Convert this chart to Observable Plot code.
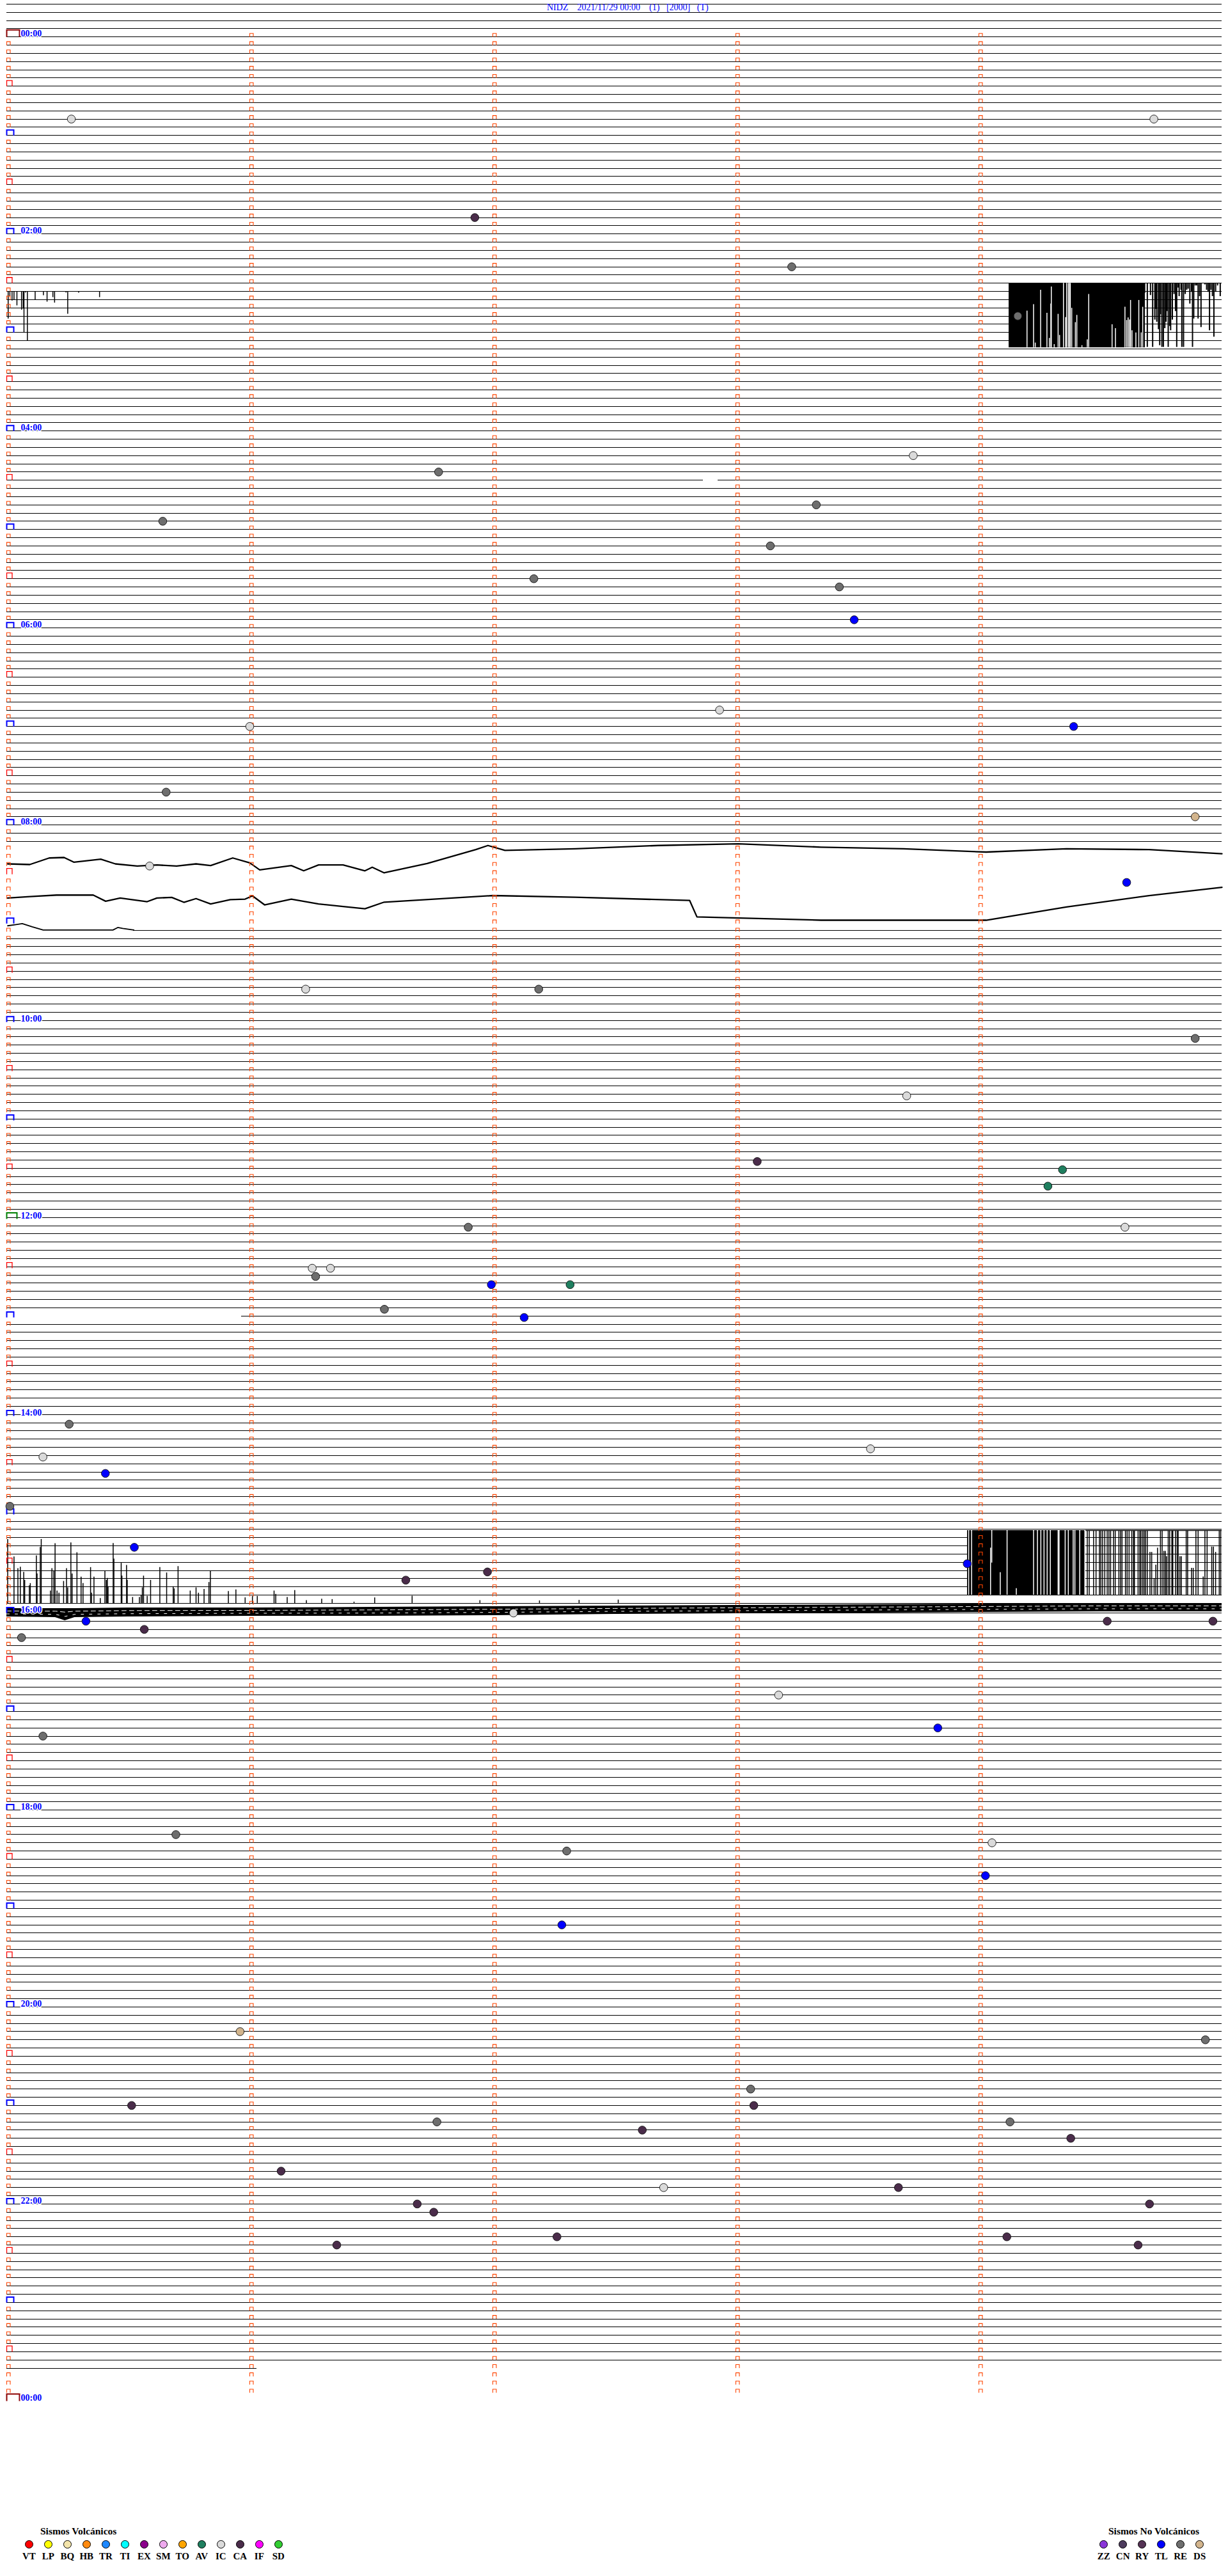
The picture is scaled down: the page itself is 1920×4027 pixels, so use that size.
<!DOCTYPE html>
<html><head><meta charset="utf-8">
<script src="https://cdn.jsdelivr.net/npm/d3@7"></script>
<script src="https://cdn.jsdelivr.net/npm/@observablehq/plot@0.6"></script>
<style>
html,body{margin:0;padding:0;background:#fff;}
body{width:1920px;height:4027px;overflow:hidden;position:relative;}
#chart{position:absolute;left:0;top:0;}
#title{position:absolute;left:855px;top:4px;font:14px "Liberation Serif",serif;color:#0000ff;white-space:pre;line-height:16px;}
#legend{position:absolute;left:0;top:3870px;width:1920px;height:157px;font-family:"Liberation Serif",serif;font-weight:bold;color:#000;}
.lg-title{position:absolute;font-size:15.5px;line-height:18px;white-space:nowrap;}
.lg-dot{position:absolute;width:13px;height:13px;box-sizing:border-box;border:1px solid #000;border-radius:50%;}
.lg-lab{position:absolute;font-size:15px;line-height:18px;transform:translateX(-50%);white-space:nowrap;}
</style></head>
<body>
<div id="chart"></div>
<div id="title"></div>
<div id="legend"></div>
<script>
// ================= DATA =================
const stationTitle = "NIDZ    2021/11/29 00:00    (1)   [2000]   (T)";
const hourLabels = ["00:00","02:00","04:00","06:00","08:00","10:00","12:00","14:00","16:00","18:00","20:00","22:00","00:00"];
const hourLabelRows = [0,24,48,72,96,120,144,168,192,216,240,264,288];   // one row = 5 minutes
const minuteTicks = [0,1,2,3,4];                                           // minutes within a row
const firstRow = -4, lastRow = 284, lastRowEnd = 1.03, lastTickRow = 287;
const missingRows = [99,100,101,102,103,104,105,106,107,108];
const shiftFrom = 109, shiftTo = 191, shiftRows = -0.18;
const gapRow  = [54, 156, 109];
const gapFrom = [2.866, 0, 0];
const gapTo   = [2.926, 0.966, 0.52];

// legend
const volcanicCodes  = ["VT","LP","BQ","HB","TR","TI","EX","SM","TO","AV","IC","CA","IF","SD"];
const volcanicColors = ["#ff0000","#ffff00","#f3e4aa","#ff8a10","#1e88ff","#00ffff","#8b008b","#eeaaee","#ffa500","#1f7f5f","#dadada","#4a2c4a","#ff00ff","#32cd32"];
const nonVolcanicCodes  = ["ZZ","CN","RY","TL","RE","DS"];
const nonVolcanicColors = ["#8a35d8","#4d3b5d","#553355","#0000ff","#6e6e6e","#d2b48c"];

// events (minute within row, row index, type)
const eventMinute = [0.266,4.72,1.926,3.23,4.16,3.73,1.777,3.331,0.642,3.142,2.169,3.426,3.487,2.933,1.0,4.39,0.656,4.89,0.588,4.608,1.23,2.189,4.89,3.703,3.088,4.344,4.284,4.601,1.899,1.257,1.332,1.271,1.994,2.318,1.554,2.129,0.257,0.149,3.554,0.406,0.013,0.525,1.642,1.978,3.952,0.326,0.061,0.566,4.528,4.963,0.149,3.176,3.831,0.696,2.304,4.054,4.027,2.284,0.96,4.932,0.514,3.061,3.074,1.77,2.615,4.128,4.378,1.129,2.703,3.669,1.689,1.757,4.702,2.264,4.115,1.358,4.655,2.085];
const eventRow    = [10,10,22,28,34,51,53,57,59,62,66,67,71,82,84,84,92,95,101,103,116,116,122,129,137,138,140,145,145,150,150,151,152,152,155,156,169,173,172,175,179,184,188,187,186,193,195,194,193,193,207,202,206,219,221,220,224,230,243,244,252,250,252,254,255,254,256,260,262,262,264,265,264,268,268,269,269,192];
const eventType   = ["IC","IC","CA","RE","RE","IC","RE","RE","RE","RE","RE","RE","TL","IC","IC","TL","RE","DS","IC","TL","IC","RE","RE","IC","CA","AV","AV","IC","RE","IC","IC","RE","TL","AV","RE","TL","RE","IC","IC","TL","RE","TL","CA","CA","TL","TL","RE","CA","CA","CA","RE","IC","TL","RE","RE","IC","TL","TL","DS","RE","CA","RE","CA","RE","CA","RE","CA","CA","IC","CA","CA","CA","CA","CA","CA","CA","CA","IC"];

// saturated event 02:30 row (hangs downward), clip depth in rows
const r30Start = 4.124, r30DenseEnd = 4.684, r30Clip = 7.83;
const r30GapMin   = [4.198,4.225,4.232,4.254,4.28,4.29,4.296,4.298,4.31,4.326,4.332,4.348,4.357,4.361,4.368,4.373,4.376,4.382,4.397,4.403,4.424,4.446,4.452,4.548,4.562,4.601,4.608,4.614,4.62,4.624,4.63,4.646,4.658,4.668,4.674];
const r30GapDepth = [3.38,2.6,7.27,0.83,3.64,6.7,2.52,0.44,7.46,3.77,6.34,0,4.16,0,0,0,0,3.04,4.78,3.9,7.59,6.88,1.35,5.04,5.51,2.91,4.52,4.21,4.47,2.08,5.77,6.03,2.08,6.03,2.91];
const r30SpikeMin   = [4.682,4.693,4.706,4.715,4.724,4.728,4.732,4.739,4.744,4.747,4.753,4.759,4.765,4.77,4.774,4.779,4.785,4.789,4.796,4.803,4.809,4.814,4.82,4.824,4.832,4.835,4.842,4.849,4.855,4.861,4.868,4.875,4.879,4.884,4.89,4.896,4.902,4.908,4.914,4.921,4.93,4.937,4.943,4.949,4.955,4.961,4.967,4.974,4.982,4.993];
const r30SpikeDepth = [1.22,7.8,1.48,7.8,4.47,3.17,4.73,5.64,7.59,3.82,7.8,7.8,5.51,4.73,3.43,7.8,5.25,5.77,4.47,1.35,3.43,7.8,0.57,1.61,0.83,7.8,7.8,1.35,0.83,0.7,2.52,1.09,7.8,4.34,0.31,0.31,4.34,1.61,5.38,0.05,0.18,0.83,1.09,5.77,0.83,1.61,6.55,1.09,0.31,1.61];
// continuation at 02:35 row
const r31SpikeMin   = [0.006,0.013,0.022,0.030,0.042,0.061,0.068,0.071,0.077,0.085,0.117,0.151,0.166,0.190,0.197,0.244,0.251,0.296,0.382];
const r31SpikeDepth = [3.35,0.62,1.15,1.09,1.74,2.26,2.13,4.99,0.16,6.0,1.09,0.5,1.28,0.73,1.4,0.16,2.76,0.19,0.73];

// saturated event 15:50 row (upward)
const r190Start = 3.952, r190DenseEnd = 4.44, r190Clip = 7.87;
const r190GapMin = [3.958,3.970,4.048,4.053,4.088,4.116,4.154,4.225,4.241,4.255,4.268,4.281,4.294,4.326,4.330,4.355,4.368,4.388,4.395,4.415,4.436];
const r190GapLo  = [0,0,0,3.92,0,0,0,0,0,0,0,0,0,0,0,0,0,0,0,0,0];
const r190GapHi  = [7.87,7.87,5.74,7.87,2.75,7.87,0.8,7.87,7.87,7.87,7.87,7.87,7.87,7.87,7.87,7.87,7.87,7.87,7.87,7.87,7.87];
const r190BarMin = [4.446,4.454,4.472,4.482,4.496,4.502,4.509,4.518,4.528,4.535,4.542,4.554,4.561,4.576,4.583,4.589,4.603,4.610,4.618,4.629,4.636,4.640,4.655,4.662,4.667,4.674,4.680,4.686,4.693,4.704,4.711,4.721,4.728,4.735,4.747,4.754,4.761,4.767,4.772,4.779,4.785,4.794,4.798,4.809,4.816,4.820,4.827,4.833,4.853,4.859,4.875,4.882,4.893,4.902,4.923,4.930,4.939,4.958,4.965,4.974,4.989,4.995];
const r190BarH   = [7.87,7.87,7.87,7.87,7.87,7.87,7.87,7.87,7.87,7.87,7.87,7.87,7.87,7.87,7.87,7.87,7.87,7.87,7.87,7.87,7.87,7.87,7.87,7.87,7.87,7.87,7.87,7.87,7.87,5.22,5.22,1.97,3.66,5.74,7.87,7.87,5.35,5.35,4.70,7.87,7.87,7.87,7.87,7.87,7.87,7.87,4.70,4.70,7.87,7.87,3.27,3.27,7.87,7.87,2.23,7.87,7.87,5.87,5.87,5.22,7.87,7.87];
// continuation at 15:55 row (upward spikes)
const r191SpikeMin = [0.004,0.030,0.046,0.056,0.070,0.074,0.093,0.097,0.122,0.125,0.138,0.142,0.180,0.186,0.194,0.199,0.207,0.215,0.234,0.246,0.251,0.264,0.269,0.289,0.306,0.314,0.345,0.349,0.359,0.385,0.404,0.410,0.414,0.417,0.438,0.441,0.471,0.474,0.493,0.496,0.518,0.546,0.553,0.558,0.563,0.578,0.592,0.630,0.658,0.685,0.689,0.705,0.755,0.779,0.789,0.812,0.832,0.838,0.912,0.943,0.981,1.011,1.031,1.100,1.107,1.154,1.185,1.233,1.296,1.339,1.429,1.514,1.668,1.947,2.192,2.355,2.516];
const r191SpikeH   = [7.79,5.66,4.23,4.42,3.79,2.81,2.16,2.42,5.79,3.59,6.83,7.79,1.51,4.23,3.97,7.27,1.51,1.25,2.68,4.23,1.9,7.38,3.59,6.18,3.2,2.42,4.37,1.25,3.2,0.6,3.97,2.81,3.06,2.03,7.3,5.4,4.89,3.33,4.62,2.81,0.73,0.73,0.99,1.9,3.33,0.86,2.81,4.37,3.71,2.03,1.77,4.49,1.51,1.9,1.25,1.71,2.55,3.97,1.45,1.64,0.68,0.86,0.86,1.51,1.11,0.73,1.56,0.34,0.52,0.47,0.16,0.68,0.88,0.34,0.31,0.37,0.41];
// noisy 16:00 row band (rows above the line, + = up)
const bandMin    = [0,0.2,0.24,0.28,0.5,1,1.5,2,2.5,3,3.5,4,4.5,5];
const bandTop    = [0.55,0.55,0.55,0.55,0.62,0.62,0.70,0.78,0.86,0.94,1.01,1.09,1.17,1.17];
const bandBottom = [-0.47,-0.55,-0.94,-0.55,-0.47,-0.39,-0.39,-0.31,-0.16,-0.08,0,0.08,0.16,0.16];

// drifting traces around 08:00-09:00 (position in row units)
const driftAMin = [0.004,0.095,0.175,0.236,0.276,0.387,0.447,0.537,0.618,0.699,0.779,0.839,0.93,1.0,1.041,1.171,1.222,1.283,1.384,1.474,1.504,1.553,1.73,1.93,1.98,2.05,2.34,2.68,3.01,3.35,3.69,4.03,4.36,4.70,5.0];
const driftARow = [100.74,100.82,100.02,99.96,100.53,100.17,100.74,101.0,100.87,101.0,100.74,100.95,100.02,100.61,101.47,100.95,101.58,100.87,100.87,101.58,101.15,101.83,100.7,99.0,98.5,99.1,98.9,98.5,98.3,98.7,98.9,99.3,98.9,99.0,99.5];
const driftBMin = [0.004,0.095,0.205,0.356,0.407,0.467,0.578,0.618,0.679,0.729,0.779,0.839,0.920,0.981,1.011,1.061,1.171,1.283,1.384,1.474,1.553,2.0,2.34,2.81,2.84,3.35,4.03,4.36,4.70,5.0];
const driftBRow = [104.90,104.72,104.54,104.54,105.29,104.9,105.34,104.9,104.82,105.42,104.97,105.62,105.1,105.03,104.64,105.73,105.03,105.62,105.93,106.2,105.4,104.6,104.8,105.2,107.2,107.6,107.6,106.0,104.6,103.6];
const driftCMin = [0.004,0.034,0.064,0.105,0.150,0.437,0.457,0.477,0.523];
const driftCRow = [108.28,108.15,108.02,108.41,108.8,108.8,108.49,108.6,108.8];

// ================= BUILD =================
const cap = (w, h) => ({draw(ctx) { ctx.moveTo(-w/2, h/2); ctx.lineTo(-w/2, -h/2); ctx.lineTo(w/2, -h/2); ctx.lineTo(w/2, h/2); }});
const rowY = r => (r >= shiftFrom && r <= shiftTo) ? r + shiftRows : r;

const segments = [];
for (let r = firstRow; r <= lastRow; r++) {
  if (missingRows.includes(r)) continue;
  let pieces = [[0, r === lastRow ? lastRowEnd : 5]];
  gapRow.forEach((gr, i) => {
    if (gr !== r) return;
    pieces = pieces.flatMap(([a, b]) => {
      const out = [];
      if (gapFrom[i] > a) out.push([a, Math.min(b, gapFrom[i])]);
      if (gapTo[i] < b) out.push([Math.max(a, gapTo[i]), b]);
      return out;
    });
  });
  pieces.forEach(([a, b]) => segments.push({y: rowY(r), x1: a, x2: b}));
}

const ticksSmall = [], ticksHalf = [], ticksHour = [], ticksNoon = [], ticksDay = [];
for (let r = 0; r <= lastTickRow + 1; r++) {
  if (r <= lastTickRow) for (const m of minuteTicks) if (m > 0 || r % 6 !== 0) ticksSmall.push({m, r});
  if (r % 6 === 0) {
    if (r === 0 || r === 288) ticksDay.push({m: 0, r});
    else if (r === 144) ticksNoon.push({m: 0, r});
    else if (r % 12 === 0) ticksHour.push({m: 0, r});
    else ticksHalf.push({m: 0, r});
  }
}
const labels = hourLabels.map((t, i) => ({t, r: hourLabelRows[i]}));

const colorOf = {};
volcanicCodes.forEach((c, i) => colorOf[c] = volcanicColors[i]);
nonVolcanicCodes.forEach((c, i) => colorOf[c] = nonVolcanicColors[i]);
const events = eventMinute.map((m, i) => ({m, r: eventRow[i], c: colorOf[eventType[i]]}));

const r30Gaps = r30GapMin.map((m, i) => ({m, y1: 30 + r30GapDepth[i], y2: 30 + r30Clip}));
const r30Spikes = r30SpikeMin.map((m, i) => ({m, y1: 30, y2: 30 + r30SpikeDepth[i]}));
const r31Spikes = r31SpikeMin.map((m, i) => ({m, y1: 31, y2: 31 + r31SpikeDepth[i]}));
const b190 = rowY(190), b191 = rowY(191);
const r190Gaps = r190GapMin.map((m, i) => ({m, y1: b190 - r190GapHi[i], y2: b190 - r190GapLo[i]}));
const r190Bars = r190BarMin.map((m, i) => ({m, y1: b190 - r190BarH[i], y2: b190}));
const r191Spikes = r191SpikeMin.map((m, i) => ({m, y1: b191 - r191SpikeH[i], y2: b191}));
const band = bandMin.map((m, i) => ({m, y1: 192 - bandTop[i], y2: 192 - bandBottom[i]}));
const driftA = driftAMin.map((m, i) => ({m, y: driftARow[i]}));
const driftB = driftBMin.map((m, i) => ({m, y: driftBRow[i]}));
const driftC = driftCMin.map((m, i) => ({m, y: driftCRow[i]}));

const tickMark = (data, w, h, stroke, sw) => Plot.dot(data, {x: "m", y: "r", symbol: cap(w, h), fill: "none", stroke, strokeWidth: sw, dx: w/2, dy: -h/2});

const chart = Plot.plot({
  width: 1920, height: 3870,
  marginTop: 0, marginRight: 0, marginBottom: 0, marginLeft: 0,
  x: {domain: [0, 5], range: [10, 1910], axis: null},
  y: {domain: [-4, 288], range: [5.97, 3752.9], axis: null},
  style: {background: "white", overflow: "visible"},
  marks: [
    Plot.ruleY(segments, {y: "y", x1: "x1", x2: "x2", stroke: "black", strokeWidth: 1, shapeRendering: "crispEdges"}),
    // drift traces
    Plot.line(driftA, {x: "m", y: "y", stroke: "black", strokeWidth: 2.3}),
    Plot.line(driftB, {x: "m", y: "y", stroke: "black", strokeWidth: 2.3}),
    Plot.line(driftC, {x: "m", y: "y", stroke: "black", strokeWidth: 1.8}),
    // 02:30 saturated event
    Plot.rect([{x1: r30Start, x2: r30DenseEnd, y1: 30, y2: 30 + r30Clip}], {x1: "x1", x2: "x2", y1: "y1", y2: "y2", fill: "black", shapeRendering: "crispEdges"}),
    Plot.ruleX(r30Gaps, {x: "m", y1: "y1", y2: "y2", stroke: "white", strokeWidth: 1.5}),
    Plot.ruleX(r30Spikes, {x: "m", y1: "y1", y2: "y2", stroke: "black", strokeWidth: 2}),
    Plot.ruleX(r31Spikes, {x: "m", y1: "y1", y2: "y2", stroke: "black", strokeWidth: 1.5}),
    // 15:50 saturated event
    Plot.rect([{x1: r190Start, x2: r190DenseEnd, y1: b190 - r190Clip, y2: b190}], {x1: "x1", x2: "x2", y1: "y1", y2: "y2", fill: "black", shapeRendering: "crispEdges"}),
    Plot.ruleX(r190Gaps, {x: "m", y1: "y1", y2: "y2", stroke: "white", strokeWidth: 1.5}),
    Plot.ruleX(r190Bars, {x: "m", y1: "y1", y2: "y2", stroke: "black", strokeWidth: 1.5}),
    Plot.ruleY([{y: b190 - r190Clip, x1: r190DenseEnd, x2: 5}], {y: "y", x1: "x1", x2: "x2", stroke: "black", strokeWidth: 1.5}),
    Plot.ruleX(r191Spikes, {x: "m", y1: "y1", y2: "y2", stroke: "black", strokeWidth: 1.5}),
    // 16:00 noisy band
    Plot.areaY(band, {x: "m", y1: "y1", y2: "y2", fill: "black"}),
    Plot.line(band.map(d => ({m: d.m, y: (d.y1 * 0.7 + d.y2 * 0.3)})), {x: "m", y: "y", stroke: "white", strokeWidth: 1, strokeDasharray: "7,5"}),
    Plot.line(band.map(d => ({m: d.m, y: (d.y1 * 0.35 + d.y2 * 0.65)})), {x: "m", y: "y", stroke: "white", strokeWidth: 1, strokeDasharray: "4,9"}),
    // minute ticks
    tickMark(ticksSmall, 5.5, 5.5, "#ff4500", 1.1),
    tickMark(ticksHalf, 8.5, 9, "#ff0000", 1.3),
    tickMark(ticksHour, 11, 8.5, "#0000ff", 2),
    tickMark(ticksNoon, 16, 9.5, "#008000", 2),
    tickMark(ticksDay, 20, 11, "#8b0000", 2),
    // events
    Plot.dot(events, {x: "m", y: "r", r: 6.3, fill: "c", stroke: "#111", strokeWidth: 0.9}),
    // hour labels
    Plot.text(labels, {x: () => 0, y: "r", text: "t", dx: 22, dy: -5, textAnchor: "start", lineAnchor: "middle",
      fill: "#0000ff", stroke: "white", strokeWidth: 3, fontSize: 14, fontWeight: "bold", fontFamily: "Liberation Serif"})
  ]
});
document.getElementById("chart").append(chart);
document.getElementById("title").textContent = stationTitle;

// legend
const lg = document.getElementById("legend");
function addLegend(codes, colors, x0, titleText, titleX) {
  const t = document.createElement("div");
  t.className = "lg-title"; t.textContent = titleText;
  t.style.left = titleX + "px"; t.style.top = "78px";
  lg.append(t);
  codes.forEach((c, i) => {
    const cx = x0 + 30 * i;
    const d = document.createElement("div");
    d.className = "lg-dot"; d.style.left = (cx - 6.5) + "px"; d.style.top = "101px"; d.style.background = colors[i];
    lg.append(d);
    const l = document.createElement("div");
    l.className = "lg-lab"; l.textContent = c; l.style.left = cx + "px"; l.style.top = "117px";
    lg.append(l);
  });
}
addLegend(volcanicCodes, volcanicColors, 45.3, "Sismos Volcánicos", 63);
addLegend(nonVolcanicCodes, nonVolcanicColors, 1725.7, "Sismos No Volcánicos", 1733);
</script>
</body></html>
